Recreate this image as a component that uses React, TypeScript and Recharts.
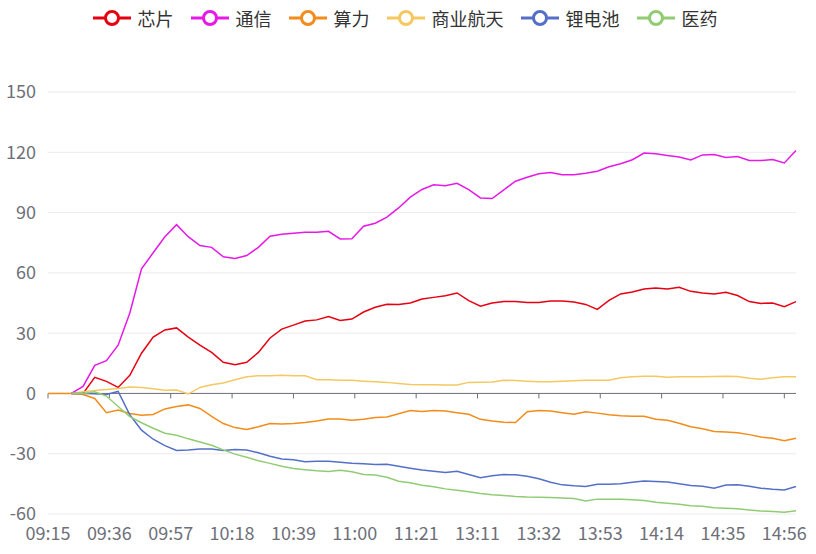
import React from 'react';
import { LineChart, Line, XAxis, YAxis, CartesianGrid, ReferenceLine, Legend } from 'recharts';

const FONT = "'Noto Sans CJK SC', 'Noto Sans', sans-serif";

// x-axis tick labels (one every 21 minutes of the trading day)
const tickLabels = ['09:15', '09:36', '09:57', '10:18', '10:39', '11:00', '11:21', '13:11', '13:32', '13:53', '14:14', '14:35', '14:56'];
const yTicks = [-60, -30, 0, 30, 60, 90, 120, 150];

const seriesNames = ['芯片', '通信', '算力', '商业航天', '锂电池', '医药'];
const seriesColors = ['#e60012', '#e619e6', '#f28c1a', '#f5c862', '#5470c6', '#91cc75'];

// values sampled every 4 minutes (index 0 = 09:15, last = 15:00)
const chip = [null, null, 0, 0, 8, 6, 3, 9, 20, 28, 31.6, 32.6, 28, 24, 20.4, 15.5, 14.3, 15.5, 20.4, 27.6, 32, 34, 36, 36.6, 38.3, 36.3, 37, 40.5, 42.9, 44.4, 44.2, 45, 47, 47.8, 48.6, 50, 46.2, 43.4, 45, 45.8, 45.7, 45.3, 45.3, 46, 46, 45.5, 44.3, 41.8, 46.3, 49.5, 50.5, 52, 52.5, 52, 52.8, 50.8, 50, 49.5, 50.3, 48.7, 45.7, 44.8, 45, 43.2, 45.7];
const comm = [null, null, 0, 3.5, 14, 16.3, 24, 40, 62, 70, 78, 84, 78, 73.6, 72.7, 68, 67.2, 68.6, 72.7, 78.2, 79.2, 79.7, 80.2, 80.2, 80.7, 76.9, 77, 83.2, 84.7, 87.7, 92.3, 97.7, 101.5, 103.8, 103.3, 104.6, 101.4, 97.3, 97, 101.3, 105.6, 107.6, 109.3, 109.9, 108.8, 108.8, 109.6, 110.6, 112.8, 114.3, 116.3, 119.6, 119.3, 118.4, 117.7, 116.2, 118.7, 118.9, 117.4, 117.9, 115.9, 115.9, 116.4, 114.7, 120.9];
const compute = [0, 0, 0, -0.5, -2.5, -9.6, -8.3, -10, -10.8, -10.5, -7.7, -6.5, -5.7, -7.5, -11.4, -15, -17, -18, -16.6, -15, -15.2, -15, -14.5, -13.7, -12.7, -12.7, -13.4, -12.9, -12, -11.7, -10.1, -8.5, -9, -8.5, -8.8, -9.6, -10.4, -12.9, -13.7, -14.3, -14.5, -9.1, -8.5, -8.8, -9.6, -10.4, -9.1, -9.8, -10.6, -11.1, -11.4, -11.4, -12.9, -13.4, -14.8, -16.6, -17.6, -18.9, -19.2, -19.6, -20.5, -21.7, -22.3, -23.5, -22.3];
const space = [null, null, 0, 0.8, 1.5, 2, 2.5, 3.2, 3, 2.3, 1.6, 1.7, -0.3, 3, 4.3, 5.2, 6.8, 8.3, 8.8, 8.8, 9, 8.8, 8.8, 6.8, 6.8, 6.6, 6.5, 6.1, 5.8, 5.5, 5, 4.5, 4.3, 4.3, 4.2, 4.2, 5.5, 5.6, 5.7, 6.6, 6.4, 6.1, 5.8, 5.8, 6.1, 6.3, 6.5, 6.5, 6.6, 7.8, 8.3, 8.5, 8.5, 8.1, 8.3, 8.3, 8.3, 8.4, 8.6, 8.4, 7.5, 7.1, 7.8, 8.3, 8.3];
const lithium = [null, null, 0, 0, -0.2, -0.5, 1, -10.6, -18.3, -22.8, -26, -28.4, -28.2, -27.7, -27.6, -28.4, -27.9, -28.2, -29.5, -31.3, -32.6, -33, -34, -33.8, -33.7, -34.2, -34.7, -35, -35.4, -35.2, -36.2, -37.2, -38.1, -38.7, -39.4, -38.7, -40.3, -41.9, -41, -40.4, -40.5, -41.2, -42.5, -44.2, -45.5, -46, -46.3, -45.2, -45.2, -44.9, -44.2, -43.6, -43.8, -44.1, -44.9, -45.8, -46.2, -47.2, -45.6, -45.4, -46.2, -47.2, -47.7, -48, -46.3];
const pharma = [null, null, 0, 0, 0.8, -1.3, -6.5, -11.5, -14.6, -17.3, -19.8, -20.8, -22.6, -24.2, -25.8, -28.1, -30.2, -31.8, -33.5, -34.8, -36.2, -37.4, -38, -38.5, -38.8, -38.2, -39, -40.3, -40.6, -41.7, -43.7, -44.5, -45.7, -46.4, -47.5, -48.2, -48.9, -49.8, -50.4, -50.8, -51.3, -51.6, -51.7, -51.8, -52, -52.3, -53.5, -52.6, -52.6, -52.7, -52.9, -53.3, -54.2, -54.6, -55.2, -55.9, -56.2, -56.9, -57.2, -57.4, -58, -58.5, -58.8, -59.1, -58.4];

const STEP = 4;
const LABEL_EVERY = 21;
const seriesValues = [chip, comm, compute, space, lithium, pharma];

const data = chip.map((_, k) => {
  const row: Record<string, number | null> = { i: k * STEP };
  seriesNames.forEach((name, s) => {
    row[name] = seriesValues[s][k];
  });
  return row;
});

const tickIdx = tickLabels.map((_, n) => n * LABEL_EVERY);

// chart geometry
const W = 816;
const H = 554;
const M_TOP = 92;
const X_AXIS_H = 40;
const Y_MIN = -60;
const Y_MAX = 150;
const PLOT_H = H - M_TOP - X_AXIS_H;
const ZERO_Y = M_TOP + (PLOT_H * Y_MAX) / (Y_MAX - Y_MIN);

const gridLine = (props: any) => {
  const isZero = Math.abs(props.y1 - ZERO_Y) < 1.5;
  return (
    <line
      key={props.key}
      x1={props.x1}
      x2={props.x2}
      y1={props.y1}
      y2={props.y2}
      stroke={isZero ? '#6e7079' : '#ebebef'}
      strokeWidth={1}
      fill="none"
    />
  );
};

const renderLegend = () => (
  <div
    style={{
      display: 'flex',
      justifyContent: 'center',
      alignItems: 'center',
      paddingRight: 6,
      fontFamily: FONT,
      fontSize: 18,
      color: '#333',
    }}
  >
    {seriesNames.map((name, s) => (
      <div key={name} style={{ display: 'flex', alignItems: 'center', marginLeft: s ? 17 : 0 }}>
        <svg width={38} height={22}>
          <line x1={0} x2={38} y1={11} y2={11} stroke={seriesColors[s]} strokeWidth={3} />
          <circle cx={19} cy={11} r={6.5} fill="#fff" stroke={seriesColors[s]} strokeWidth={3} />
        </svg>
        <span style={{ marginLeft: 7, lineHeight: '22px' }}>{name}</span>
      </div>
    ))}
  </div>
);

export default function App() {
  return (
    <div style={{ position: 'absolute', left: 0, top: 0, width: W, height: H, background: '#fff' }}>
      <LineChart width={W} height={H} data={data} margin={{ top: M_TOP, right: 20, bottom: 0, left: 0 }}>
        <CartesianGrid vertical={false} horizontal={gridLine} />
        <XAxis
          dataKey="i"
          type="number"
          domain={[0, 256]}
          ticks={tickIdx}
          interval={0}
          tickFormatter={(v: number) => tickLabels[Math.round(v / LABEL_EVERY)]}
          axisLine={false}
          tickLine={false}
          tickSize={6}
          tickMargin={7}
          height={X_AXIS_H}
          tick={{ fill: '#6e7079', fontSize: 18, fontFamily: FONT }}
        />
        <YAxis
          type="number"
          domain={[Y_MIN, Y_MAX]}
          ticks={yTicks}
          interval={0}
          axisLine={false}
          tickLine={false}
          tickSize={6}
          tickMargin={6}
          width={48}
          tick={{ fill: '#6e7079', fontSize: 18, fontFamily: FONT }}
        />
        {tickIdx.map((t) => (
          <ReferenceLine
            key={t}
            segment={[{ x: t, y: 0 }, { x: t, y: -2.5 }]}
            stroke="#6e7079"
            strokeWidth={1}
          />
        ))}
        <Legend content={renderLegend} verticalAlign="middle" align="center" wrapperStyle={{ top: 7, left: 0, width: W }} />
        {seriesNames.map((name, s) => (
          <Line
            key={name}
            dataKey={name}
            type="linear"
            stroke={seriesColors[s]}
            strokeWidth={1.5}
            dot={false}
            activeDot={false}
            isAnimationActive={false}
            connectNulls={false}
          />
        ))}
      </LineChart>
    </div>
  );
}
